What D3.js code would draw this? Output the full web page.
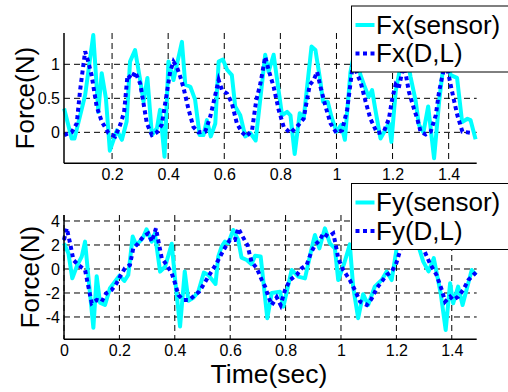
<!DOCTYPE html>
<html>
<head>
<meta charset="utf-8">
<script src="https://cdn.jsdelivr.net/npm/d3@7"></script>
<style>
  body { margin: 0; background: #fff; }
  text { font-family: "Liberation Sans", Arial, sans-serif; fill: #000; }
</style>
</head>
<body>
<div class="chart"></div>
<script>
// [time, force] vertices
const fxSensor = [[0.029,0.35],[0.056,-0.09],[0.066,-0.09],[0.104,0.55],[0.133,1.43],[0.151,0.3],[0.163,0.87],[0.178,0.5],[0.192,-0.27],[0.217,0.03],[0.235,-0.11],[0.252,0.16],[0.264,1.04],[0.282,1.21],[0.3,0.77],[0.312,0.45],[0.326,0.8],[0.342,-0.04],[0.36,0.06],[0.371,0.33],[0.387,-0.36],[0.401,1.04],[0.419,0.77],[0.449,1.33],[0.461,0.7],[0.479,0.67],[0.496,0.48],[0.512,-0.04],[0.526,-0.04],[0.538,0.18],[0.552,-0.06],[0.568,0.13],[0.58,1.04],[0.595,1.07],[0.61,0.92],[0.627,0.84],[0.639,0.38],[0.657,0.25],[0.675,-0.06],[0.693,-0.01],[0.712,-0.12],[0.746,1.14],[0.758,0.89],[0.776,1.14],[0.806,0.25],[0.824,0.3],[0.836,0.25],[0.851,-0.32],[0.869,0.28],[0.883,0.2],[0.911,1.26],[0.925,1.21],[0.943,0.74],[0.952,0.45],[0.969,0.45],[0.982,0.23],[1.0,0.01],[1.017,0.11],[1.03,-0.11],[1.05,0.89],[1.07,1.3],[1.085,0.85],[1.098,0.7],[1.115,0.52],[1.127,0.62],[1.14,0.3],[1.157,-0.09],[1.187,0.13],[1.196,-0.14],[1.211,0.6],[1.225,0.9],[1.245,1.25],[1.264,0.82],[1.282,0.47],[1.294,0.11],[1.31,0.0],[1.327,0.38],[1.348,-0.38],[1.366,0.45],[1.377,0.84],[1.39,1.2],[1.407,0.84],[1.43,0.8],[1.448,0.15],[1.467,0.2],[1.478,0.18],[1.496,-0.1]];

const fxDL = [[0.029,-0.04],[0.056,0.0],[0.074,0.13],[0.086,0.62],[0.104,1.19],[0.115,1.04],[0.127,0.84],[0.145,0.38],[0.163,0.16],[0.187,-0.01],[0.211,-0.06],[0.229,0.11],[0.243,0.3],[0.255,0.84],[0.27,0.79],[0.282,0.89],[0.3,0.72],[0.312,0.43],[0.324,0.13],[0.342,-0.04],[0.36,0.0],[0.377,0.11],[0.393,0.52],[0.407,0.89],[0.419,1.04],[0.431,0.96],[0.443,0.82],[0.455,0.65],[0.473,0.33],[0.49,0.08],[0.508,0.0],[0.532,0.01],[0.55,0.23],[0.568,0.55],[0.58,0.77],[0.592,0.62],[0.61,0.57],[0.627,0.43],[0.645,0.13],[0.663,0.0],[0.679,-0.06],[0.699,0.03],[0.714,0.47],[0.729,0.72],[0.746,1.11],[0.758,0.92],[0.776,0.67],[0.794,0.33],[0.812,0.08],[0.836,-0.01],[0.865,0.11],[0.883,0.2],[0.895,0.48],[0.905,0.7],[0.919,0.77],[0.931,0.89],[0.943,0.67],[0.961,0.38],[0.979,0.13],[1.0,-0.01],[1.02,0.03],[1.038,0.33],[1.05,0.72],[1.06,1.05],[1.075,0.84],[1.086,0.74],[1.104,0.45],[1.121,0.2],[1.145,-0.01],[1.169,0.01],[1.187,0.2],[1.199,0.5],[1.211,0.7],[1.222,0.65],[1.235,0.9],[1.243,0.95],[1.258,0.6],[1.276,0.35],[1.288,0.2],[1.3,0.01],[1.318,-0.03],[1.336,0.01],[1.354,0.25],[1.366,0.6],[1.376,0.8],[1.39,1.05],[1.407,0.7],[1.419,0.47],[1.431,0.25],[1.449,0.01],[1.485,-0.01]];

const fySensor = [[0.0,2.14],[0.016,1.3],[0.03,-0.78],[0.048,0.33],[0.064,1.03],[0.076,2.28],[0.088,-0.64],[0.106,-4.9],[0.118,-0.6],[0.13,-2.8],[0.148,-3.0],[0.166,-1.6],[0.2,-0.55],[0.218,-1.0],[0.232,-0.5],[0.248,2.7],[0.261,2.0],[0.284,2.56],[0.298,3.3],[0.317,2.28],[0.328,2.97],[0.347,-0.22],[0.365,0.19],[0.389,2.1],[0.4,-0.64],[0.419,-4.8],[0.436,-0.2],[0.449,-2.65],[0.467,-2.4],[0.485,-1.89],[0.505,-0.3],[0.521,-0.5],[0.547,-1.25],[0.557,1.03],[0.569,1.86],[0.581,2.28],[0.593,2.14],[0.611,3.25],[0.629,2.42],[0.641,0.95],[0.66,0.75],[0.677,0.4],[0.69,1.1],[0.71,1.05],[0.734,-4.1],[0.75,-2.0],[0.78,-1.89],[0.792,-3.14],[0.822,-0.08],[0.846,-0.64],[0.87,-0.78],[0.894,1.72],[0.906,2.83],[0.922,1.72],[0.942,3.39],[0.96,2.14],[0.978,1.72],[0.99,-0.92],[1.012,0.5],[1.032,2.05],[1.044,-1.5],[1.062,-4.1],[1.08,-2.1],[1.098,-3.0],[1.122,-1.47],[1.147,-0.92],[1.165,-0.22],[1.183,-0.92],[1.2,1.58],[1.22,2.6],[1.25,3.2],[1.28,1.9],[1.297,0.61],[1.316,-0.2],[1.335,0.9],[1.36,-2.03],[1.378,-5.08],[1.394,-1.19],[1.405,-2.86],[1.423,-1.47],[1.439,-3.0],[1.472,-0.08],[1.487,-0.5]];

const fyDL = [[0.0,2.42],[0.01,3.39],[0.022,2.14],[0.034,0.75],[0.052,0.33],[0.076,-0.08],[0.088,-1.47],[0.1,-2.86],[0.118,-2.58],[0.136,-2.72],[0.152,-2.03],[0.172,-1.75],[0.19,-1.19],[0.205,-0.5],[0.22,0.06],[0.238,0.33],[0.25,1.72],[0.268,2.14],[0.286,2.7],[0.304,2.97],[0.317,2.28],[0.332,3.39],[0.34,2.42],[0.353,0.89],[0.371,0.33],[0.389,-0.36],[0.401,-1.19],[0.413,-2.17],[0.431,-2.58],[0.452,-2.58],[0.473,-2.17],[0.488,-1.89],[0.503,-1.33],[0.521,-0.64],[0.543,0.19],[0.557,0.75],[0.573,1.44],[0.587,2.0],[0.599,2.42],[0.617,2.42],[0.629,3.39],[0.645,2.7],[0.662,2.0],[0.677,0.61],[0.696,0.06],[0.714,-0.92],[0.726,-1.47],[0.738,-2.31],[0.75,-3.0],[0.768,-2.36],[0.782,-3.0],[0.798,-1.75],[0.816,-0.92],[0.84,-0.5],[0.858,0.06],[0.876,0.33],[0.891,1.3],[0.906,2.0],[0.924,2.42],[0.936,2.97],[0.954,2.7],[0.972,2.97],[0.98,2.14],[0.99,0.89],[1.008,-0.08],[1.032,-0.92],[1.05,-1.75],[1.069,-2.72],[1.093,-3.0],[1.11,-2.5],[1.129,-1.61],[1.147,-1.05],[1.165,-0.5],[1.183,-0.22],[1.2,0.5],[1.213,1.5],[1.23,2.5],[1.25,3.0],[1.27,2.8],[1.29,2.0],[1.305,1.3],[1.321,0.47],[1.345,-0.5],[1.364,-1.75],[1.376,-2.72],[1.394,-2.31],[1.405,-2.58],[1.423,-2.31],[1.441,-1.75],[1.46,-0.92],[1.478,-0.5],[1.49,-0.22]];

// tick labels
const fxXTicks = [0.2, 0.4, 0.6, 0.8, 1, 1.2, 1.4];
const fxYTicks = [0, 0.5, 1];
const fyXTicks = [0, 0.2, 0.4, 0.6, 0.8, 1, 1.2, 1.4];
const fyYTicks = [-4, -2, 0, 2, 4];
const fxLegend = ['Fx(sensor)', 'Fx(D,L)'];
const fyLegend = ['Fy(sensor)', 'Fy(D,L)'];

const outerWidth = 508;
const outerHeight = 392;

const svg = d3.select('.chart')
    .append('svg')
    .attr('width', outerWidth)
    .attr('height', outerHeight);

function panel(opts){
    const xScale = d3.scaleLinear()
        .domain(opts.xDomain)
        .range([64, 476.7]);
    const yScale = d3.scaleLinear()
        .domain(opts.yDomain)
        .range(opts.yRange);

    const g = svg.append('g');
    const top = opts.yRange[1], bottom = opts.yRange[0];

    //dashed grid
    g.selectAll('.vgrid')
        .data(opts.xTicks)
        .enter()
        .append('line')
        .attr('x1', d => xScale(d)).attr('x2', d => xScale(d))
        .attr('y1', top).attr('y2', bottom)
        .attr('stroke', '#000')
        .attr('stroke-width', 1)
        .attr('stroke-dasharray', '6,4');
    g.selectAll('.hgrid')
        .data(opts.yTicks)
        .enter()
        .append('line')
        .attr('x1', 64).attr('x2', 476.7)
        .attr('y1', d => yScale(d)).attr('y2', d => yScale(d))
        .attr('stroke', '#000')
        .attr('stroke-width', 1)
        .attr('stroke-dasharray', '6,4');

    const line = d3.line()
        .x(d => xScale(d[0]))
        .y(d => yScale(d[1]));

    g.append('path')
        .datum(opts.sensor)
        .attr('fill', 'none')
        .attr('stroke', '#00ffff')
        .attr('stroke-width', 4)
        .attr('stroke-linejoin', 'round')
        .attr('d', line);

    g.append('path')
        .datum(opts.dl)
        .attr('fill', 'none')
        .attr('stroke', '#0000ff')
        .attr('stroke-width', 4)
        .attr('stroke-dasharray', '4,3.5')
        .attr('d', line);

    // axes, no tick marks, just labels
    const xAxis = d3.axisBottom(xScale)
        .tickValues(opts.xTicks)
        .tickSize(0)
        .tickPadding(5)
        .tickFormat(d => String(d));
    const yAxis = d3.axisLeft(yScale)
        .tickValues(opts.yTicks)
        .tickSize(0)
        .tickPadding(4)
        .tickFormat(d => String(d));

    g.append('g')
        .attr('transform', 'translate(0,' + bottom + ')')
        .call(xAxis)
        .call(a => a.select('.domain').attr('stroke-width', 1.5).attr('d', 'M64,0H476.7'))
        .selectAll('text')
        .attr('font-size', 16)
        .attr('font-family', '"Liberation Sans", Arial, sans-serif');
    g.append('g')
        .attr('transform', 'translate(64,0)')
        .call(yAxis)
        .call(a => a.select('.domain').attr('stroke-width', 1.5).attr('d', 'M0,' + top + 'V' + bottom))
        .selectAll('text')
        .attr('font-size', 16)
        .attr('font-family', '"Liberation Sans", Arial, sans-serif');

    //y label
    g.append('text')
        .attr('transform', 'translate(' + opts.labelX + ',' + (top + bottom) / 2 + ') rotate(-90)')
        .attr('text-anchor', 'middle')
        .attr('font-size', 26)
        .text('Force(N)');

    //legend
    const lg = g.append('g')
        .attr('transform', 'translate(351.5,' + opts.legendY + ')');
    lg.append('rect')
        .attr('width', 170)
        .attr('height', 66)
        .attr('fill', '#fff')
        .attr('stroke', '#000')
        .attr('stroke-width', 1);
    lg.selectAll('.item')
        .data(opts.legend)
        .enter()
        .append('line')
        .attr('x1', 4).attr('x2', 23)
        .attr('y1', (d, i) => 19 + i * 28.5).attr('y2', (d, i) => 19 + i * 28.5)
        .attr('stroke', (d, i) => i == 0 ? '#00ffff' : '#0000ff')
        .attr('stroke-width', 4)
        .attr('stroke-dasharray', (d, i) => i == 0 ? null : '4,3.5');
    lg.selectAll('.lbl')
        .data(opts.legend)
        .enter()
        .append('text')
        .attr('x', 24.5)
        .attr('y', (d, i) => 27.5 + i * 28.5)
        .attr('font-size', 26)
        .text(d => d);
}

panel({
    sensor: fxSensor, dl: fxDL,
    xDomain: [0.0286, 1.5], yDomain: [-0.455, 1.46], yRange: [163.3, 33],
    xTicks: fxXTicks, yTicks: fxYTicks,
    legend: fxLegend, legendY: 6, labelX: 34
});
panel({
    sensor: fySensor, dl: fyDL,
    xDomain: [0, 1.49], yDomain: [-5.86, 4.5], yRange: [339.3, 215],
    xTicks: fyXTicks, yTicks: fyYTicks,
    legend: fyLegend, legendY: 183.5, labelX: 39
});

svg.append('text')
    .attr('x', 269)
    .attr('y', 382.5)
    .attr('text-anchor', 'middle')
    .attr('font-size', 26.5)
    .text('Time(sec)');
</script>
</body>
</html>
